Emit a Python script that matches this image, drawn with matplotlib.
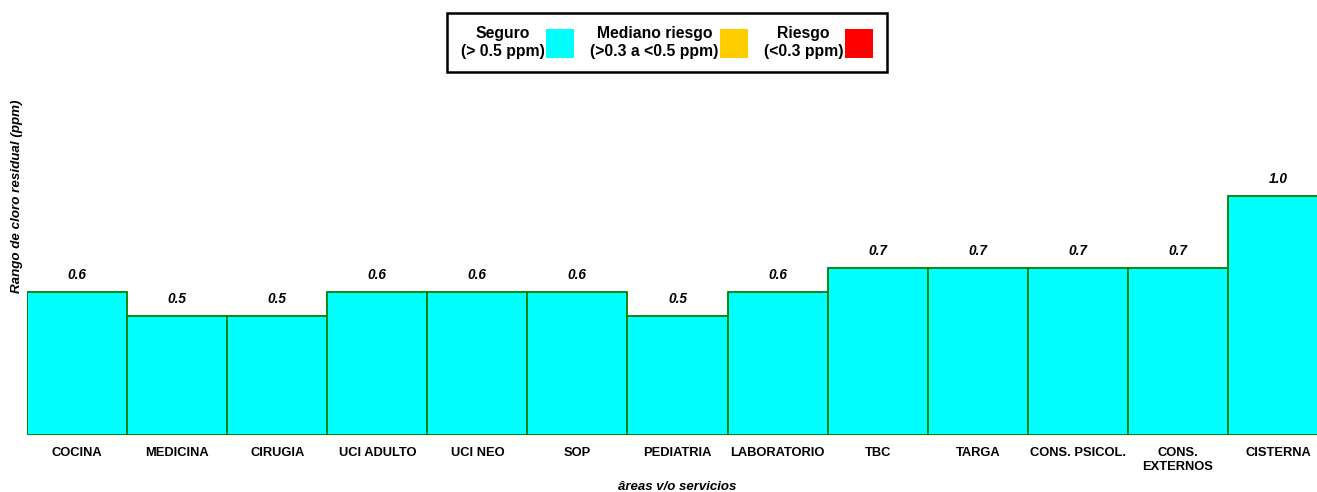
import matplotlib.pyplot as plt
from matplotlib.patches import Patch

areas = ["COCINA", "MEDICINA", "CIRUGIA", "UCI ADULTO", "UCI NEO", "SOP",
         "PEDIATRIA", "LABORATORIO", "TBC", "TARGA", "CONS. PSICOL.",
         "CONS.\nEXTERNOS", "CISTERNA"]
cloro = [0.6, 0.5, 0.5, 0.6, 0.6, 0.6, 0.5, 0.6, 0.7, 0.7, 0.7, 0.7, 1.0]

leg_labels = ["Seguro\n(> 0.5 ppm)", "Mediano riesgo\n(>0.3 a <0.5 ppm)", "Riesgo\n(<0.3 ppm)"]
leg_colors = ["#00FFFF", "#FFCC00", "#FF0000"]

plt.rcParams["font.family"] = ["Liberation Sans", "DejaVu Sans"]

fig = plt.figure(figsize=(13.17, 4.92), dpi=100)
# plot area runs a bit past the right edge, like the original
ax = fig.add_axes([27 / 1317, 57 / 492, 1301 / 1317, 335 / 492])

x = range(len(areas))
bars = ax.bar(x, cloro, width=1.0, color="#00FFFF", edgecolor="#008000", linewidth=1.3)
for b, v in zip(bars, cloro):
    ax.annotate(f"{v:.1f}", (b.get_x() + b.get_width() / 2, v), xytext=(0, 7),
                textcoords="offset points", ha="center", va="bottom",
                fontsize=9.8, fontweight="bold", fontstyle="italic")

ax.set_xlim(-0.5, len(areas) - 0.5)
ax.set_ylim(0, 335 / 239)
ax.set_xticks(list(x))
ax.set_xticklabels(areas, fontsize=9.3, fontweight="bold", va="top")
ax.tick_params(axis="x", length=0, pad=9)
ax.set_yticks([])
for s in ax.spines.values():
    s.set_visible(False)

fig.text(17 / 1317, 1 - 196 / 492, "Rango de cloro residual (ppm)", rotation=90,
         ha="center", va="center", fontsize=9.6, fontweight="bold", fontstyle="italic")
fig.text(677 / 1317, 1 - 487 / 492, "âreas v/o servicios", ha="center", va="center",
         fontsize=9.5, fontweight="bold", fontstyle="italic")

handles = [Patch(facecolor=c, edgecolor="none") for c in leg_colors]
leg = fig.legend(handles, leg_labels, loc="center", bbox_to_anchor=(667 / 1317, 1 - 42.5 / 492),
                 ncol=3, markerfirst=False, fancybox=False, edgecolor="black", framealpha=1,
                 handlelength=1.8, handleheight=2.5, handletextpad=0.1, columnspacing=1.0,
                 borderpad=0.85, borderaxespad=0, prop={"weight": "bold", "size": 11.3})
leg.get_frame().set_linewidth(1.8)
for t in leg.get_texts():
    t.set_multialignment("center")

fig.savefig("out.png", dpi=100)
